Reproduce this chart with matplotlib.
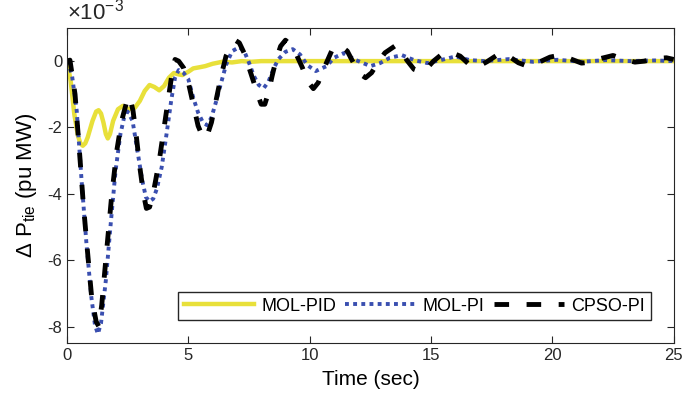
import numpy as np
import matplotlib
matplotlib.use('Agg')
import matplotlib.pyplot as plt

plt.rcParams['font.family'] = ['Liberation Sans', 'DejaVu Sans']
plt.rcParams.update({'mathtext.default': 'regular'})
plt.rcParams.update({'axes.unicode_minus': False})
plt.rcParams.update({'font.size': 12})

# values, in units of 1e-3 pu MW
pid_t = [0, 0.15, 0.3, 0.45, 0.55, 0.65, 0.75, 0.85, 1.05, 1.2, 1.3, 1.4, 1.5,
         1.6, 1.68, 1.77, 1.9, 2.1, 2.3, 2.55, 2.8, 3.0, 3.2, 3.4, 3.6, 3.8,
         4.0, 4.2, 4.4, 4.6, 4.75, 5.0, 5.2, 5.5, 5.7, 6.0, 6.4, 6.8, 7.2,
         7.6, 8.0, 10, 15, 20, 25]
pid_v = [0, -0.6, -1.6, -2.25, -2.48, -2.55, -2.48, -2.3, -1.8, -1.52, -1.48,
         -1.58, -1.85, -2.2, -2.33, -2.2, -1.8, -1.45, -1.35, -1.45, -1.4,
         -1.2, -0.9, -0.72, -0.78, -0.88, -0.75, -0.5, -0.36, -0.4, -0.42,
         -0.32, -0.22, -0.18, -0.15, -0.08, -0.02, -0.04, 0.0, -0.02, 0, 0,
         0, 0, 0]

pi_t = [0, 0.2, 0.4, 0.6, 0.8, 1.0, 1.15, 1.27, 1.4, 1.6, 1.8, 2.0, 2.2, 2.35,
        2.5, 2.7, 2.9, 3.1, 3.25, 3.4, 3.55, 3.7, 3.9, 4.1, 4.3, 4.45, 4.6,
        4.8, 5.0, 5.2, 5.4, 5.6, 5.77, 5.95, 6.15, 6.35, 6.55, 6.8, 7.1, 7.3,
        7.5, 7.7, 7.9, 8.1, 8.3, 8.5, 8.7, 9.0, 9.3, 9.6, 9.9, 10.25, 10.7,
        11.0, 11.4, 11.9, 12.5, 12.9, 13.3, 13.8, 14.3, 14.85, 15.4, 16.0,
        16.6, 17.2, 18.2, 19.2, 20.2, 21.2, 22.2, 23.2, 24.2, 25]
pi_v = [0, -0.4, -1.5, -3.6, -5.5, -7.1, -7.95, -8.22, -7.9, -6.6, -4.9, -3.3,
        -2.2, -1.7, -1.52, -1.8, -2.7, -3.6, -4.1, -4.23, -4.15, -3.85, -3.2,
        -2.2, -1.15, -0.5, -0.27, -0.35, -0.55, -1.1, -1.55, -1.85, -1.93,
        -1.7, -1.2, -0.65, -0.12, 0.3, 0.42, 0.3, -0.05, -0.45, -0.72, -0.82,
        -0.62, -0.25, 0.05, 0.28, 0.36, 0.2, -0.12, -0.3, -0.15, 0.1, 0.24,
        0.03, -0.15, -0.06, 0.1, 0.18, 0.03, -0.06, 0.03, 0.14, 0.03, 0.0,
        0.06, -0.02, 0.04, -0.02, 0.03, 0.0, 0.02, 0.0]

cpso_t = [0, 0.12, 0.33, 0.53, 0.66, 0.82, 1.02, 1.2, 1.31, 1.43, 1.64, 1.84,
          2.05, 2.25, 2.45, 2.58, 2.72, 2.86, 3.0, 3.15, 3.27, 3.4, 3.52, 3.65,
          3.8, 4.0, 4.2, 4.32, 4.45, 4.6, 4.8, 5.0, 5.2, 5.4, 5.6, 5.75, 5.95,
          6.15, 6.35, 6.55, 6.75, 6.95, 7.1, 7.3, 7.5, 7.7, 7.85, 8.0, 8.15,
          8.3, 8.45, 8.6, 8.8, 9.0, 9.2, 9.45, 9.7, 9.9, 10.15, 10.35, 10.6,
          10.9, 11.25, 11.55, 11.8, 12.05, 12.3, 12.55, 12.8, 13.1, 13.5, 13.7,
          14.0, 14.3, 14.6, 14.85, 15.1, 15.5, 15.8, 16.2, 16.6, 16.9, 17.3,
          17.8, 18.1, 18.6, 19.0, 19.4, 19.9, 20.3, 20.7, 21.2, 21.6, 22.0,
          22.5, 22.9, 23.4, 23.8, 24.3, 24.7, 25]
cpso_v = [0, 0.03, -1.0, -2.9, -4.2, -5.55, -7.16, -7.85, -8.0, -7.35, -5.65,
          -4.05, -2.7, -1.8, -1.25, -1.06, -1.5, -2.3, -3.2, -4.0, -4.44, -4.4,
          -4.1, -3.6, -3.0, -2.0, -1.0, -0.4, 0.05, 0.0, -0.2, -0.65, -1.3,
          -1.95, -2.3, -2.3, -1.85, -1.15, -0.45, 0.15, 0.45, 0.62, 0.55, 0.24,
          -0.2, -0.65, -1.0, -1.3, -1.3, -0.95, -0.45, 0.0, 0.45, 0.63, 0.5,
          0.2, -0.2, -0.6, -0.83, -0.65, -0.2, 0.3, 0.48, 0.3, -0.05, -0.38,
          -0.5, -0.35, -0.05, 0.25, 0.45, 0.4, 0.03, -0.25, -0.33, -0.2, 0.0,
          0.24, 0.27, 0.15, -0.12, -0.18, -0.02, 0.22, 0.2, -0.05, -0.16, -0.05,
          0.12, 0.18, 0.08, -0.06, -0.03, 0.08, 0.17, 0.06, -0.03, 0.0, 0.08,
          0.1, 0.05]

labels = ['MOL-PID', 'MOL-PI', 'CPSO-PI']
x_ticks = [0, 5, 10, 15, 20, 25]
y_ticks = [0, -2, -4, -6, -8]

fig = plt.figure(figsize=(6.84, 3.99), dpi=100)
ax = fig.add_axes([0.098, 0.140, 0.887, 0.790])

ax.plot(pid_t, pid_v, color='#e8e03a', lw=3.2, label=labels[0])
ax.plot(pi_t, pi_v, color='#3a4fb0', lw=2.8,
        linestyle=(0, (1, 1.1)), label=labels[1])
ax.plot(cpso_t, cpso_v, color='black', lw=3.5,
        linestyle=(0, (3, 3.6)), label=labels[2])

ax.set_xlim(0, 25)
ax.set_ylim(-8.5, 1.0)
ax.set_xticks(x_ticks)
ax.set_yticks(y_ticks)
ax.set_yticklabels([str(v) for v in y_ticks])

# exponent label, MATLAB style
ax.text(0.0, 1.01, r'$\times$10$^{-3}$', transform=ax.transAxes,
        fontsize=16, ha='left', va='bottom', color='#262626')

ax.tick_params(direction='in', top=True, right=True, length=5, width=0.8,
               labelsize=12, colors='#262626')
for s in ax.spines.values():
    s.set_color('#262626')
    s.set_linewidth(0.8)

ax.set_xlabel('Time (sec)', fontsize=15, labelpad=5)
ax.set_ylabel(r'Δ P$_{tie}$ (pu MW)', fontsize=16, labelpad=6)

ax.legend(loc='lower right', bbox_to_anchor=(0.962, 0.073), borderaxespad=0,
          ncol=3, fontsize=13, handlelength=3.9, handletextpad=0.4,
          columnspacing=0.5, fancybox=False, edgecolor='#262626',
          framealpha=1, borderpad=0.3)

fig.savefig('out.png', dpi=100)
